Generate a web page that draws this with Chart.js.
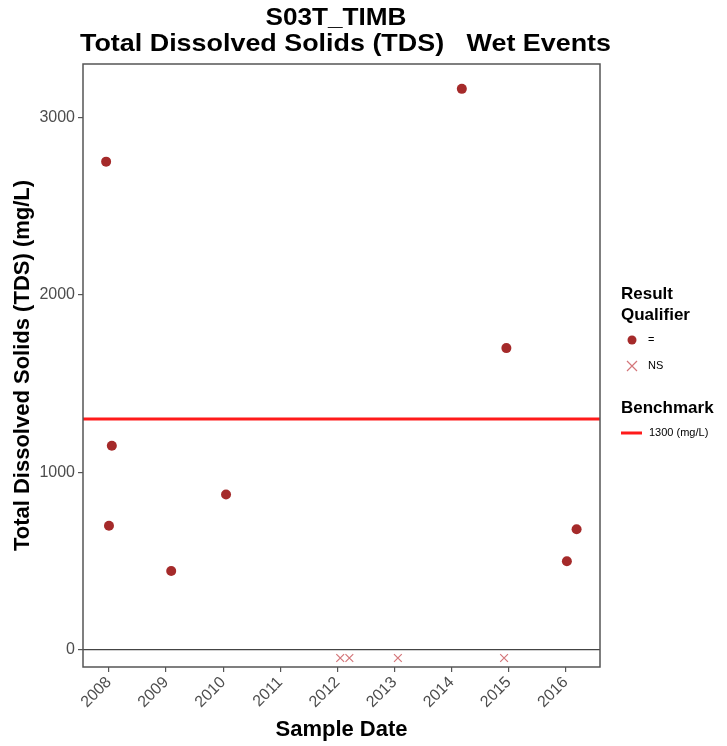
<!DOCTYPE html>
<html><head><meta charset="utf-8">
<script src="https://cdn.jsdelivr.net/npm/chart.js@4/dist/chart.umd.min.js"></script>
<style>html,body{margin:0;padding:0;background:#fff}#wrap{width:727px;height:746px;position:relative}</style>
</head><body><div id="wrap"><canvas id="c" width="727" height="746"></canvas></div>
<script>
const titleLines = ['S03T_TIMB', 'Total Dissolved Solids (TDS)   Wet Events'];
const xAxisTitle = 'Sample Date';
const yAxisTitle = 'Total Dissolved Solids (TDS) (mg/L)';
const eqDates  = [2007.95, 2008.00, 2008.05, 2009.09, 2010.05, 2014.18, 2014.96, 2016.02, 2016.19];
const eqValues = [2750, 700, 1150, 445, 875, 3160, 1700, 500, 680];
const nsDates  = [2012.05, 2012.21, 2013.06, 2014.92];
const nsValues = [-45, -45, -45, -45];
const xTickYears = [2008, 2009, 2010, 2011, 2012, 2013, 2014, 2015, 2016];
const yTickValues = [0, 1000, 2000, 3000];
const benchmarkValue = 1300;
const benchmarkLabel = '1300 (mg/L)';
const legendTitle1 = ['Result', 'Qualifier'];
const legendItems = ['=', 'NS'];
const legendTitle2 = 'Benchmark';
const xRange = [2007.545, 2016.6];
const yRange = [-96, 3300];

const FONT = "'Liberation Sans', Arial, sans-serif";
const eqColor = '#a52a2a';
const nsColor = '#d4767a';
const benchColor = '#ff1a1a';

function stretchedText(ctx, text, cx, cy, targetW) {
  const w = ctx.measureText(text).width;
  const k = targetW / w;
  ctx.save();
  ctx.translate(cx, cy);
  ctx.scale(k, 1);
  ctx.fillText(text, 0, 0);
  ctx.restore();
}

const framePlugin = {
  id: 'frame',
  afterDraw(chart) {
    const ctx = chart.ctx, a = chart.chartArea;
    ctx.save();
    ctx.strokeStyle = '#555';
    ctx.lineWidth = 1.5;
    ctx.strokeRect(a.left, a.top, a.right - a.left, a.bottom - a.top);
    // title
    ctx.fillStyle = '#000';
    ctx.font = 'bold 24px ' + FONT;
    ctx.textAlign = 'center';
    ctx.textBaseline = 'middle';
    stretchedText(ctx, titleLines[0], 336, 18.5, 141);
    stretchedText(ctx, titleLines[1], 345.5, 44.5, 531);
    // legend
    ctx.textAlign = 'left';
    ctx.font = 'bold 17px ' + FONT;
    ctx.fillText(legendTitle1[0], 621, 294);
    ctx.fillText(legendTitle1[1], 621, 315);
    ctx.beginPath();
    ctx.fillStyle = eqColor;
    ctx.arc(632, 340, 4.5, 0, Math.PI * 2);
    ctx.fill();
    ctx.strokeStyle = nsColor;
    ctx.lineWidth = 1.2;
    ctx.beginPath();
    ctx.moveTo(627, 361); ctx.lineTo(637, 371);
    ctx.moveTo(637, 361); ctx.lineTo(627, 371);
    ctx.stroke();
    ctx.fillStyle = '#000';
    ctx.font = '11px ' + FONT;
    ctx.fillText(legendItems[0], 648, 340);
    ctx.fillText(legendItems[1], 648, 366);
    ctx.font = 'bold 17px ' + FONT;
    ctx.fillText(legendTitle2, 621, 408);
    ctx.strokeStyle = benchColor;
    ctx.lineWidth = 3;
    ctx.beginPath();
    ctx.moveTo(621, 433); ctx.lineTo(642, 433);
    ctx.stroke();
    ctx.font = '11px ' + FONT;
    ctx.fillText(benchmarkLabel, 649, 433);
    ctx.restore();
  }
};

new Chart(document.getElementById('c'), {
  type: 'scatter',
  data: {
    datasets: [
      {
        label: 'Benchmark',
        type: 'line',
        data: [{x: xRange[0], y: benchmarkValue}, {x: xRange[1], y: benchmarkValue}],
        borderColor: benchColor,
        borderWidth: 3,
        pointRadius: 0,
        order: 3
      },
      {
        label: legendItems[0],
        data: eqDates.map((d, i) => ({x: d, y: eqValues[i]})),
        backgroundColor: eqColor,
        borderColor: eqColor,
        pointRadius: 5,
        borderWidth: 0,
        order: 1
      },
      {
        label: legendItems[1],
        data: nsDates.map((d, i) => ({x: d, y: nsValues[i]})),
        pointStyle: 'crossRot',
        borderColor: nsColor,
        backgroundColor: nsColor,
        pointRadius: 5.5,
        borderWidth: 1.2,
        order: 2
      }
    ]
  },
  options: {
    responsive: false,
    animation: false,
    devicePixelRatio: 1,
    layout: {padding: {top: 64, right: 127, bottom: 0, left: 0}},
    plugins: {legend: {display: false}, tooltip: {enabled: false}, title: {display: false}},
    scales: {
      x: {
        type: 'linear',
        min: xRange[0], max: xRange[1],
        afterBuildTicks: s => { s.ticks = xTickYears.map(v => ({value: v})); },
        afterFit: s => { s.height = 79; },
        ticks: {
          callback: v => String(v),
          color: '#4d4d4d',
          font: {family: FONT, size: 16},
          minRotation: 45, maxRotation: 45,
          padding: 1,
          autoSkip: false
        },
        grid: {drawOnChartArea: false, drawTicks: true, tickLength: 5, tickColor: '#555', lineWidth: 1.2},
        border: {display: false},
        title: {display: true, text: xAxisTitle, color: '#000', font: {family: FONT, size: 22, weight: 'bold'}, padding: {top: 0, bottom: 3}}
      },
      y: {
        type: 'linear',
        min: yRange[0], max: yRange[1],
        afterBuildTicks: s => { s.ticks = yTickValues.map(v => ({value: v})); },
        afterFit: s => { s.width = 83; },
        ticks: {
          callback: v => String(v),
          color: '#4d4d4d',
          font: {family: FONT, size: 16},
          padding: 3
        },
        grid: {
          drawOnChartArea: true, drawTicks: true, tickLength: 5,
          color: c => (c.tick && c.tick.value === 0 ? '#444' : 'rgba(0,0,0,0)'),
          tickColor: '#555', lineWidth: 1.2
        },
        border: {display: false},
        title: {display: true, text: yAxisTitle, color: '#000', font: {family: FONT, size: 22, weight: 'bold'}, padding: {top: 10, bottom: 0}}
      }
    }
  },
  plugins: [framePlugin]
});
</script>
</body></html>
